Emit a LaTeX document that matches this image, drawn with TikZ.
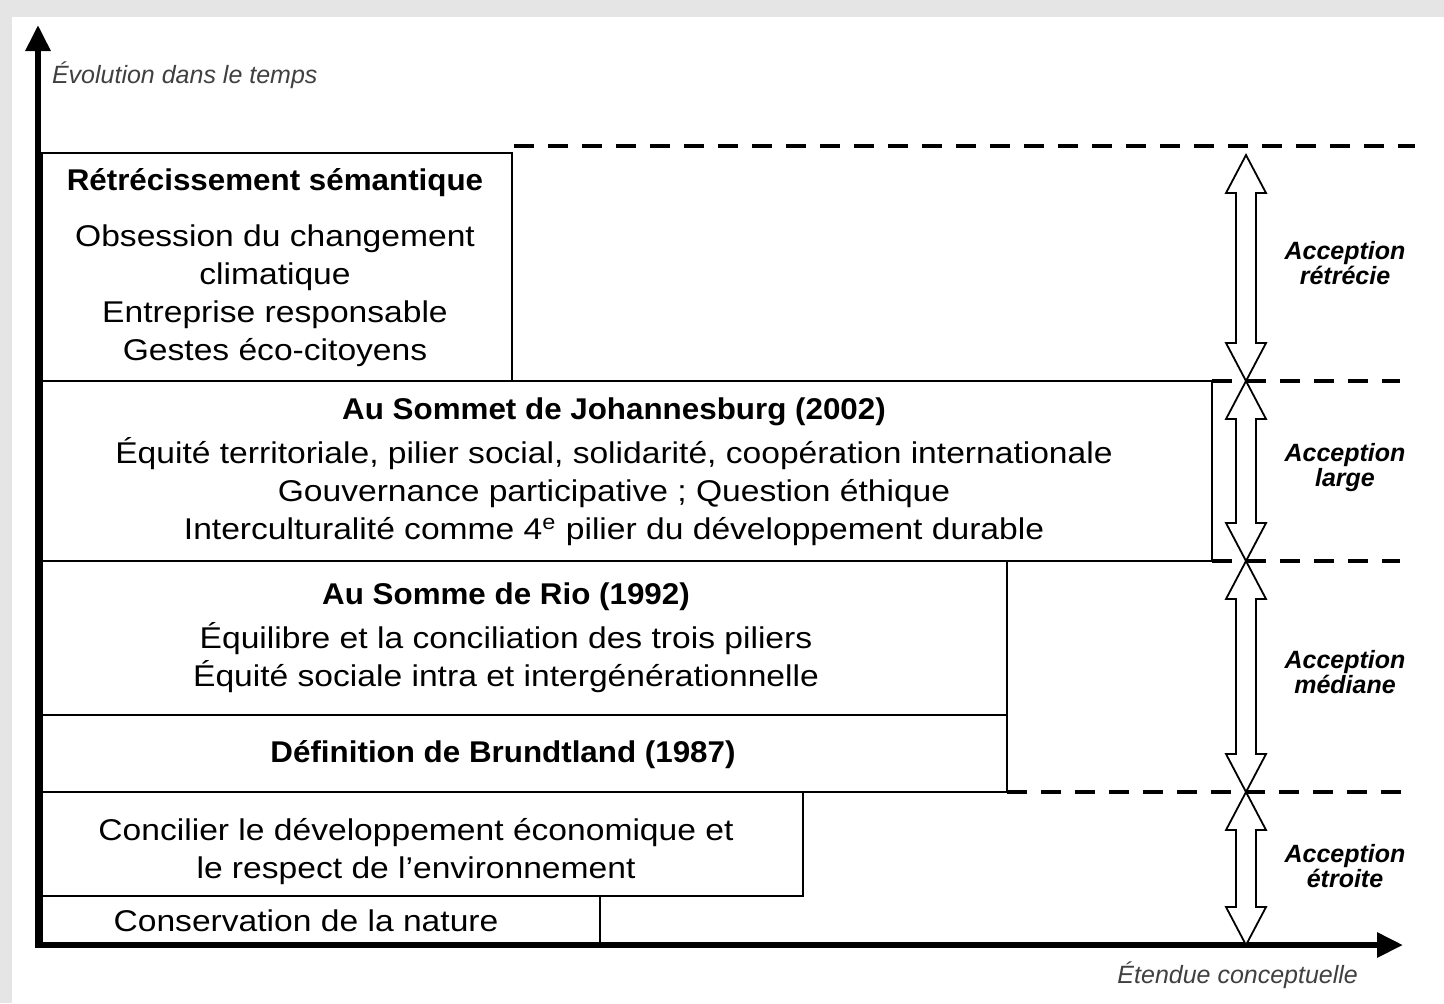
\documentclass[tikz,border=0pt]{standalone}
\usepackage{fontspec}
\setmainfont{Liberation Sans}
\newfontfamily\boxfont[FakeStretch=1.12]{Liberation Sans}
\newfontfamily\boxbold[FakeStretch=1.045]{Liberation Sans Bold}
\usetikzlibrary{arrows.meta, positioning}

\begin{document}
\begin{tikzpicture}[x=0.5pt, y=-0.5pt,
    box/.style={draw, line width=0.9pt},
    txt/.style={align=center, font=\fontsize{15}{19}\boxfont},
    lbl/.style={align=center, font=\fontsize{12.5}{12.5}\selectfont\bfseries\itshape},
    axlbl/.style={font=\fontsize{12.5}{14}\selectfont\itshape, text=black!75},
    sep/.style={line width=2pt, dash pattern=on 10pt off 7pt},
    axis/.style={line width=3pt, -{Triangle[length=13pt, width=12pt]}}]
    % frame
    \fill[black!10] (0,0) rectangle (1444,1003);
    \fill[white] (12,17) rectangle (1444,1003);
    \useasboundingbox (0,0) rectangle (1444,1003);

    % boxes, bottom to top
    \draw[box] (42,896) rectangle (600,945);
    \draw[box] (42,792) rectangle (803,896);
    \draw[box] (42,715) rectangle (1007,792);
    \draw[box] (42,561) rectangle (1007,715);
    \draw[box] (42,381) rectangle (1212,561);
    \draw[box] (42,153) rectangle (512,381);

    % limits between acceptions
    \draw[sep] (514,146) -- (1415,146);
    \draw[sep] (1212,381) -- (1400,381);
    \draw[sep] (1212,561) -- (1400,561);
    \draw[sep] (1007,792) -- (1415,792);

    % axes
    \draw[axis] (38,948) -- (38,25);
    \draw[axis] (35,945) -- (1403,945);
    \node[axlbl, anchor=west] (temps) at (45,75) {Évolution dans le temps};
    \node[axlbl, anchor=east] (etendue) at (1365,975) {Étendue conceptuelle};

    % hollow double arrows
    \foreach \t/\b in {155/381, 381/561, 561/792, 792/945} {
        \draw[line width=0.9pt, fill=white]
            (1246,\t) -- (1266,\t+38) -- (1256,\t+38) -- (1256,\b-38) --
            (1266,\b-38) -- (1246,\b) -- (1226,\b-38) -- (1236,\b-38) --
            (1236,\t+38) -- (1226,\t+38) -- cycle;
    }
    \foreach \y/\w [count=\i] in {263/rétrécie, 468/large, 672/médiane, 866/étroite}
        \node[lbl] (acc\i) at (1345,\y) {Acception\\\w};

    % contents
    \node[txt] (retr) at (275,268) {{\boxbold Rétrécissement sémantique}\\[9pt]
        Obsession du changement\\climatique\\Entreprise responsable\\Gestes éco-citoyens};
    \node[txt] (johan) at (614,472) {{\boxbold Au Sommet de Johannesburg (2002)}\\[3pt]
        Équité territoriale, pilier social, solidarité, coopération internationale\\
        Gouvernance participative ; Question éthique\\
        Interculturalité comme 4\textsuperscript{e} pilier du développement durable};
    \node[txt] (rio) at (506,638) {{\boxbold Au Somme de Rio (1992)}\\[3pt]
        Équilibre et la conciliation des trois piliers\\
        Équité sociale intra et intergénérationnelle};
    \node[txt] (brundt) at (503,755) {{\boxbold Définition de Brundtland (1987)}};
    \node[txt] (concil) at (416,852) {Concilier le développement économique et\\
        le respect de l’environnement};
    \node[txt] (conserv) at (306,921) {Conservation de la nature};
\end{tikzpicture}
\end{document}
